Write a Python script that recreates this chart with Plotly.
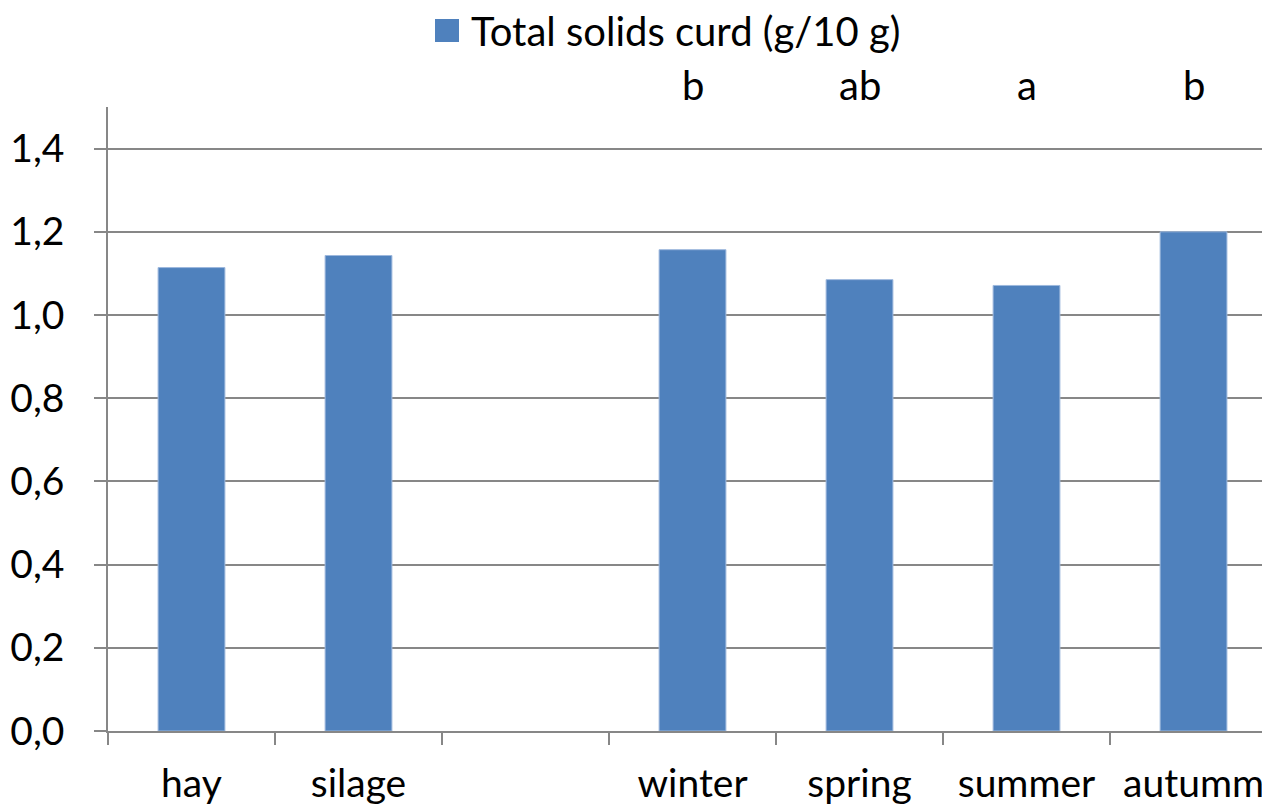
import plotly.graph_objects as go

categories = ["hay", "silage", " ", "winter", "spring", "summer", "autumm"]
values = [1.114, 1.143, None, 1.157, 1.085, 1.071, 1.200]
letters = [None, None, None, "b", "ab", "a", "b"]
series_name = "Total solids curd (g/10 g)"

FONT = "Lato, Carlito, Calibri, sans-serif"
FS = 40
TFS = 39
BAR = "#4F81BD"
GRID = "#878787"

fig = go.Figure()
fig.add_trace(go.Bar(
    x=categories, y=values, name=series_name,
    marker=dict(color=BAR, line=dict(color="#9DB8DD", width=1)),
    width=0.4, showlegend=False,
))

# significance letters above the bars
for c, t in zip(categories, letters):
    if t:
        fig.add_annotation(x=c, y=1.035, xref="x", yref="paper", yanchor="middle",
                           text=t, showarrow=False,
                           font=dict(family=FONT, size=FS, color="black"))

# legend (square + label) drawn in the top margin
fig.add_shape(type="rect", xref="paper", yref="paper",
              x0=(435 - 108) / 1154, x1=(459 - 108) / 1154,
              y0=(731 - 42) / 624, y1=(731 - 19) / 624,
              fillcolor=BAR, line=dict(width=0))
fig.add_annotation(x=(469 - 108) / 1154, y=(731 - 31) / 624, xref="paper", yref="paper",
                   xanchor="left", yanchor="middle", text=series_name, showarrow=False,
                   font=dict(family=FONT, size=FS, color="black"))

fig.update_layout(
    width=1262, height=806,
    margin=dict(l=108, r=0, t=107, b=75, autoexpand=False),
    paper_bgcolor="white", plot_bgcolor="white",
    separators=", ",
    font=dict(family=FONT, size=FS, color="black"),
    showlegend=False,
)

fig.update_xaxes(
    type="category", categoryorder="array", categoryarray=categories,
    range=[-0.5, 6.41],
    showline=True, linecolor=GRID, linewidth=1.5,
    ticks="outside", tickson="boundaries", ticklen=12, tickcolor=GRID, tickwidth=1.5,
    showgrid=False, ticklabelstandoff=17,
    tickfont=dict(family=FONT, size=TFS),
)
fig.update_yaxes(
    range=[0, 1.5], tick0=0, dtick=0.2, tickformat=".1f",
    showline=True, linecolor=GRID, linewidth=1.5,
    ticks="outside", ticklen=12, tickcolor=GRID, tickwidth=1.5,
    showgrid=True, gridcolor=GRID, gridwidth=1.5,
    zeroline=False, ticklabelstandoff=22,
    tickfont=dict(family=FONT, size=TFS),
)

fig.write_html("out.html", config={"displayModeBar": False},
               post_script="document.body.style.margin='0';")
